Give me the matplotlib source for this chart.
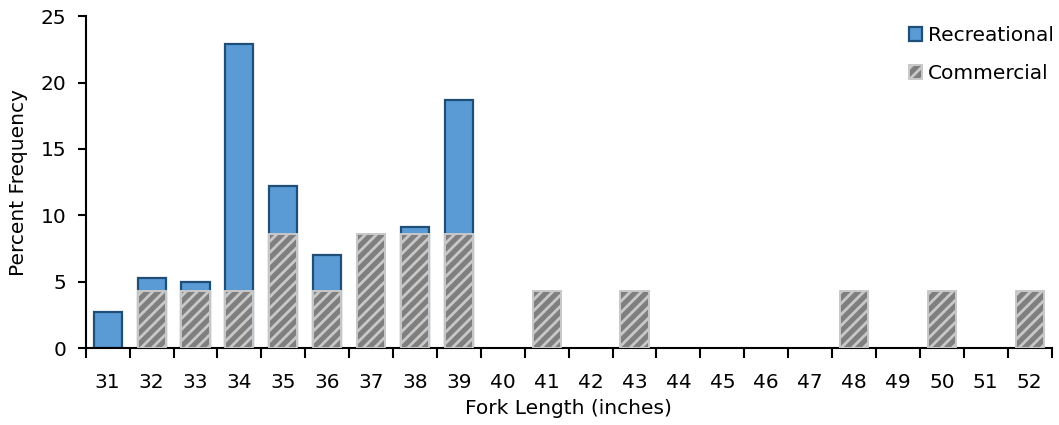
import matplotlib
matplotlib.use("Agg")
import matplotlib.pyplot as plt
import numpy as np

lengths = [str(v) for v in range(31, 53)]
recreational = [2.7, 5.3, 5.0, 22.9, 12.2, 7.0, 0, 9.1, 18.7, 0, 0, 0, 0, 0, 0, 0, 0, 0, 0, 0, 0, 0]
commercial = [0, 4.3, 4.3, 4.3, 8.6, 4.3, 8.6, 8.6, 8.6, 0, 4.3, 0, 4.3, 0, 0, 0, 0, 4.3, 0, 4.3, 0, 4.3]

plt.rcParams['font.family'] = ['DejaVu Sans']
plt.rcParams['hatch.linewidth'] = 2.0

fs = 14.5
fig = plt.figure(figsize=(10.59, 4.25), dpi=100)
ax = fig.add_axes([0.081, 0.181, 0.912, 0.781])

x = np.arange(len(lengths))
w = 0.64
rec = [v if v > 0 else np.nan for v in recreational]
com = [v if v > 0 else np.nan for v in commercial]
ax.bar(x, rec, width=w, color='#5B9BD5', edgecolor='#1F4E79', linewidth=1.6,
       label='Recreational', zorder=2)
ax.bar(x, com, width=w, color='#7F7F7F', edgecolor='#C8C8C8', linewidth=1.4,
       hatch='///', label='Commercial', zorder=3)

ax.set_xlim(-0.5, len(lengths) - 0.5)
ax.set_ylim(0, 25)
ax.set_yticks([0, 5, 10, 15, 20, 25])
ax.set_xticks(x)
ax.set_xticklabels(lengths)
ax.set_xticks(np.arange(-0.5, len(lengths)), minor=True)
ax.tick_params(axis='x', which='major', length=0, labelsize=fs, pad=18)
ax.tick_params(axis='x', which='minor', length=7, width=1.5, direction='out')
ax.tick_params(axis='y', labelsize=fs, length=6, width=1.5, direction='out', pad=8)
for s in ['top', 'right']:
    ax.spines[s].set_visible(False)
for s in ['left', 'bottom']:
    ax.spines[s].set_linewidth(1.5)

ax.set_xlabel('Fork Length (inches)', fontsize=fs, labelpad=5)
ax.set_ylabel('Percent Frequency', fontsize=fs, labelpad=9)

leg = ax.legend(loc='upper right', frameon=False, fontsize=fs, handlelength=0.65,
                handleheight=0.65, handletextpad=0.3, labelspacing=0.95,
                bbox_to_anchor=(1.021, 1.025))

fig.savefig('out.png', dpi=100)
